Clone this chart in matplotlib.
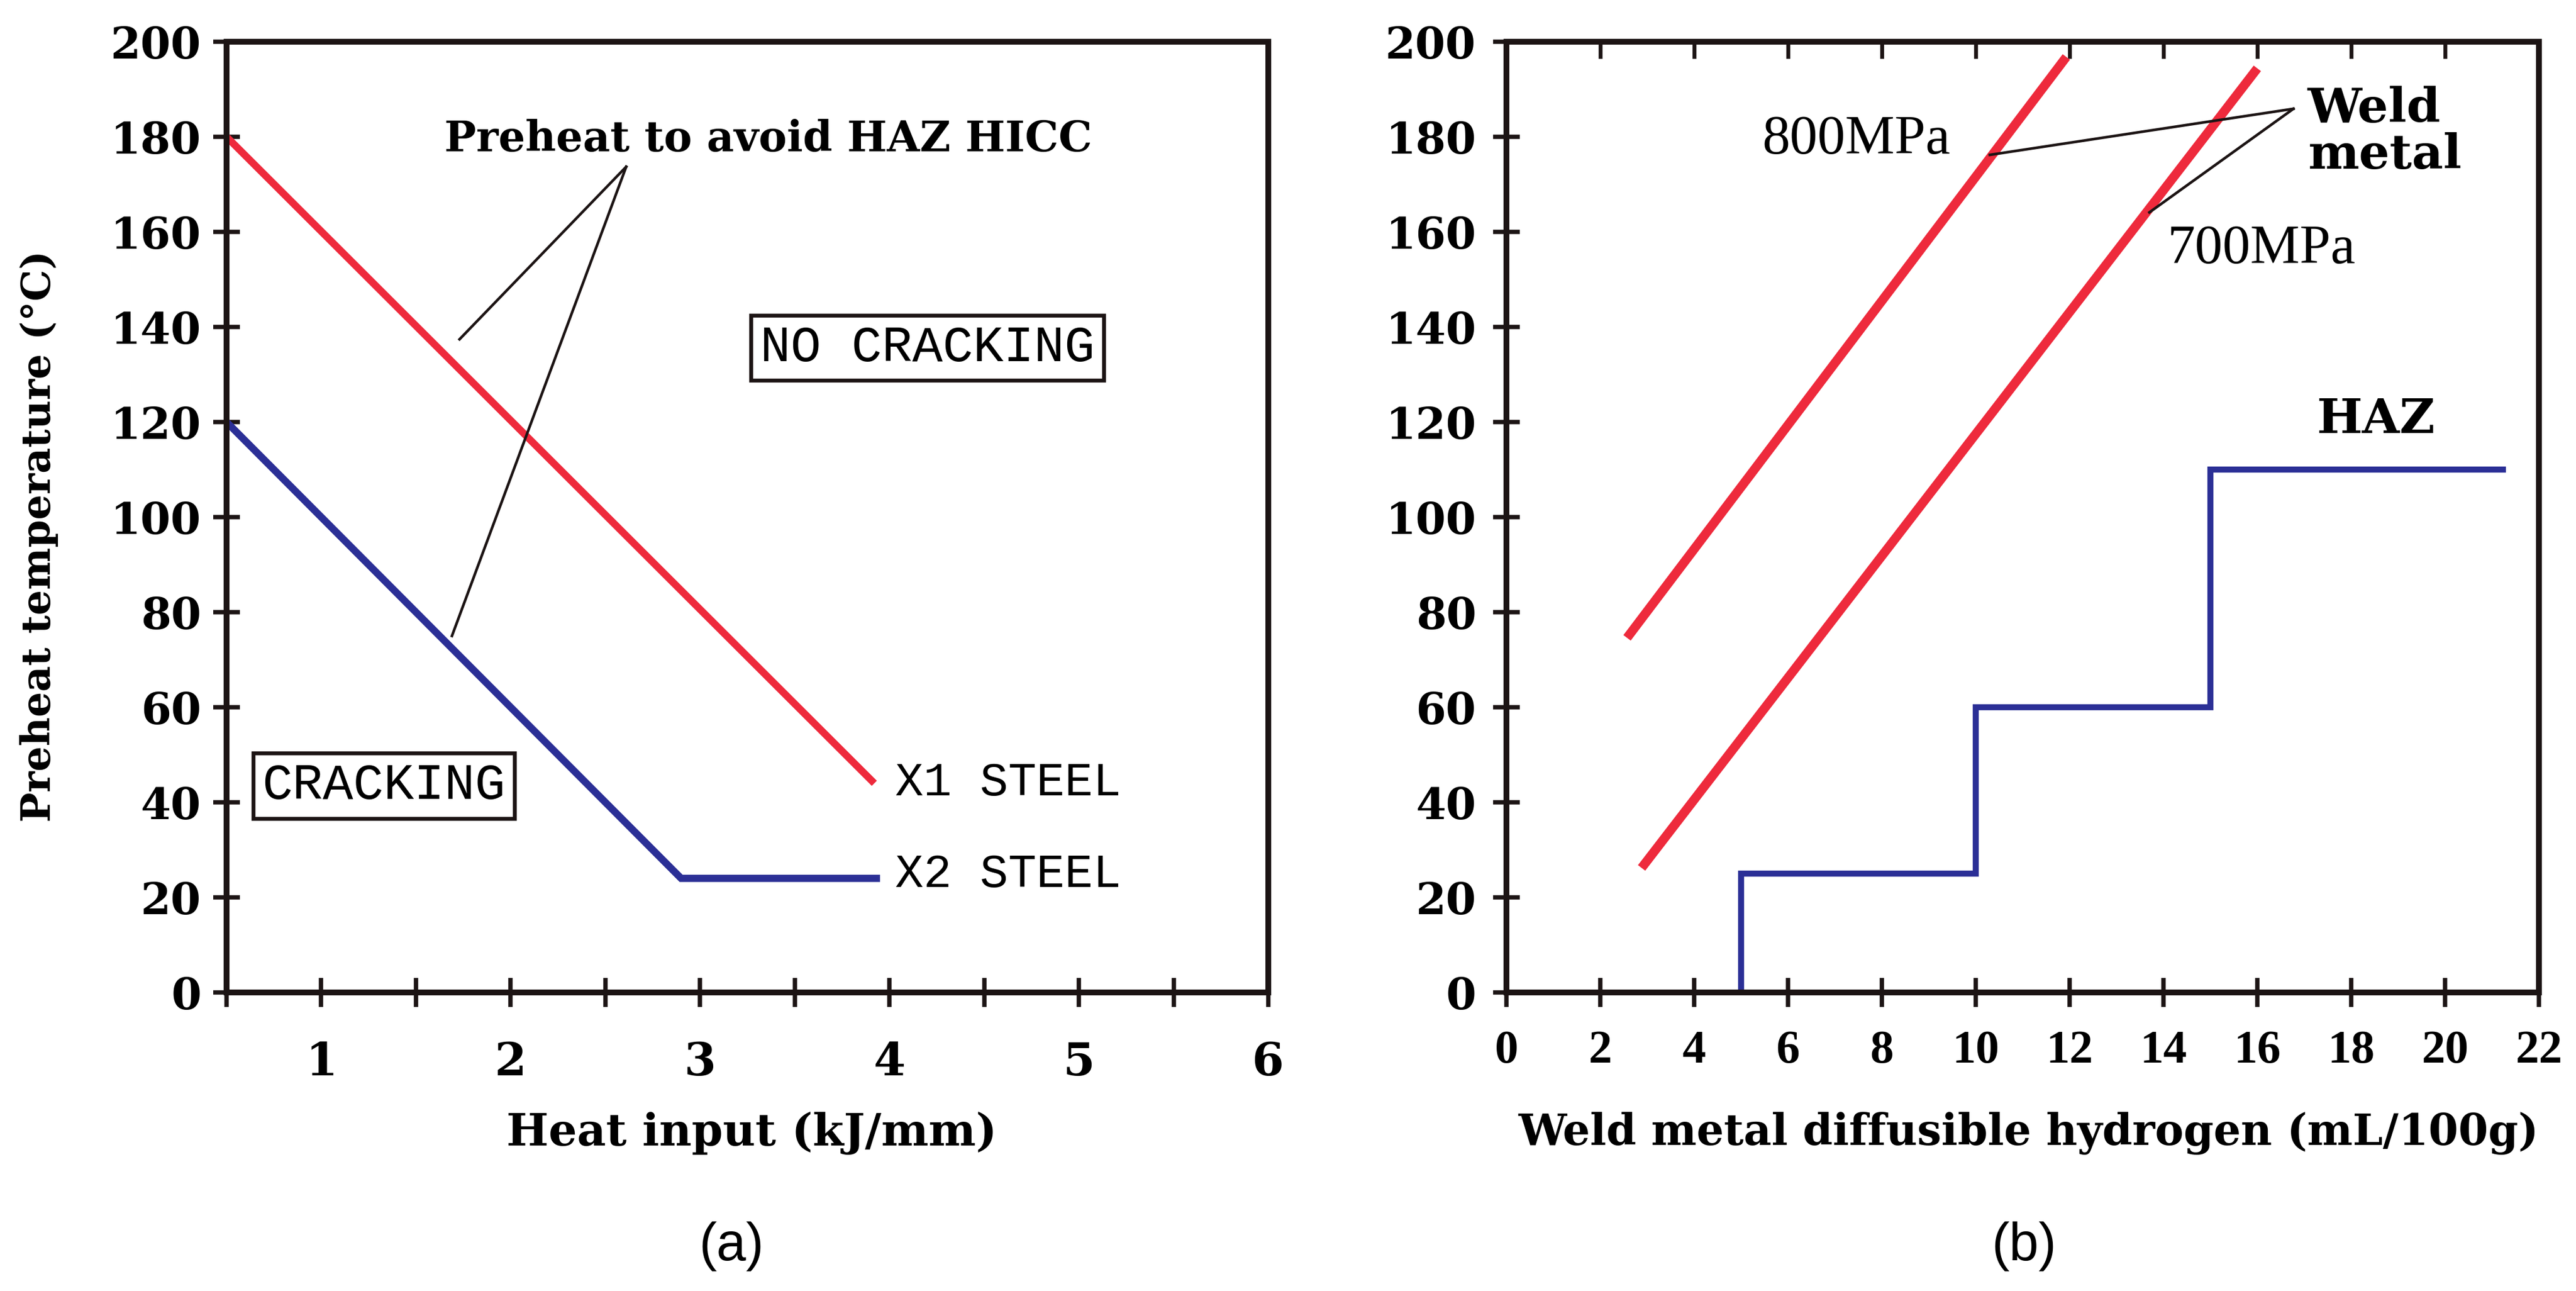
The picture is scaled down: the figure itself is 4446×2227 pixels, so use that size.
import numpy as np
import matplotlib
matplotlib.use("Agg")
import matplotlib.pyplot as plt

# ---------------- data ----------------
# Panel (a): preheat vs heat input
x1_heat = [0.5, 3.92]
x1_preheat = [180, 44]
x2_heat = [0.5, 2.9, 3.95]
x2_preheat = [120, 24, 24]

# Panel (b): preheat vs weld metal diffusible hydrogen
h800 = [2.57, 11.93]
t800 = [74.6, 196.8]
h700 = [2.88, 16.0]
t700 = [26.2, 194.4]
haz_h = [5, 5, 10, 10, 15, 15, 21.3]
haz_t = [0, 25, 25, 60, 60, 110, 110]

a_xticks = [1, 2, 3, 4, 5, 6]
b_xticks = list(range(0, 23, 2))
yticks = list(range(0, 201, 20))

W, H = 4446, 2227
DPI = 300
fig = plt.figure(figsize=(W / DPI, H / DPI), dpi=DPI)
fig.patch.set_facecolor("white")

RED = "#ee2a3c"
BLUE = "#2b2f96"
INK = "#1c1414"
SERIF = "DejaVu Serif"

bot = 1 - 1712 / H
hgt = (1712 - 72) / H
ax1 = fig.add_axes([391 / W, bot, (2189 - 391) / W, hgt])
ax2 = fig.add_axes([2600 / W, bot, (4382 - 2600) / W, hgt])

for ax in (ax1, ax2):
    for s in ax.spines.values():
        s.set_linewidth(2.4)
        s.set_color(INK)
    ax.set_ylim(0, 200)
    ax.set_yticks(yticks)
    ax.tick_params(axis="y", direction="inout", length=11, width=1.8, color=INK,
                   labelsize=18, left=True, right=False)
    for lab in ax.get_yticklabels():
        lab.set_fontfamily(SERIF)
        lab.set_fontweight("bold")

# ---------- panel (a) ----------
ax1.set_xlim(0.5, 6)
ax1.set_xticks(a_xticks)
ax1.set_xticks(np.arange(0.5, 6.0, 1.0), minor=True)
ax1.tick_params(axis="x", which="both", direction="inout", length=12, width=1.8,
                color=INK, labelsize=19, pad=14)
ax1.tick_params(axis="y", pad=5)
for lab in ax1.get_xticklabels():
    lab.set_fontfamily(SERIF)
    lab.set_fontweight("bold")

ax1.plot(x1_heat, x1_preheat, color=RED, lw=3.0, solid_capstyle="butt")
ax1.plot(x2_heat, x2_preheat, color=BLUE, lw=3.0, solid_capstyle="butt",
         solid_joinstyle="miter")

ax1.text(1.65, 179.4, "Preheat to avoid HAZ HICC", fontfamily=SERIF,
         fontweight="bold", fontsize=17.5, ha="left", va="center", color="black")
ax1.plot([2.61, 1.73], [173.7, 137.4], color=INK, lw=1.1)
ax1.plot([2.61, 1.69], [173.7, 75.0], color=INK, lw=1.1)

box = dict(boxstyle="square,pad=0.18", fc="white", ec=INK, lw=1.6)
ax1.text(4.2, 135.6, "NO CRACKING", fontfamily="Liberation Mono", fontsize=21,
         ha="center", va="center", bbox=box, color="black")
ax1.text(1.33, 43.5, "CRACKING", fontfamily="Liberation Mono", fontsize=21,
         ha="center", va="center", bbox=box, color="black")
ax1.text(4.03, 44, "X1 STEEL", fontfamily="Liberation Mono", fontsize=19.5,
         ha="left", va="center", color="black")
ax1.text(4.03, 24.8, "X2 STEEL", fontfamily="Liberation Mono", fontsize=19.5,
         ha="left", va="center", color="black")

ax1.set_ylabel("Preheat temperature (°C)", fontfamily=SERIF, fontweight="bold",
               fontsize=16.5)
ax1.yaxis.set_label_coords(-0.18, 0.48)
ax1.yaxis.label.set_va("center")
ax1.set_xlabel("Heat input (kJ/mm)", fontfamily=SERIF, fontweight="bold",
               fontsize=18.5)
ax1.xaxis.set_label_coords(0.504, -0.148)
ax1.xaxis.label.set_va("center")

# ---------- panel (b) ----------
ax2.set_xlim(0, 22)
ax2.set_xticks(b_xticks)
ax2.tick_params(axis="x", which="both", direction="inout", length=12, width=1.8,
                color=INK, labelsize=19.5, pad=9.5)
ax2.tick_params(axis="y", pad=7)
for lab in ax2.get_xticklabels():
    lab.set_fontfamily("Liberation Serif")
    lab.set_fontweight("bold")

top = ax2.secondary_xaxis("top")
top.set_xticks(list(range(2, 21, 2)))
top.tick_params(direction="in", length=7, width=1.6, color=INK, labeltop=False)
top.spines["top"].set_linewidth(2.4)
top.spines["top"].set_color(INK)

ax2.plot(h800, t800, color=RED, lw=3.8, solid_capstyle="butt")
ax2.plot(h700, t700, color=RED, lw=3.8, solid_capstyle="butt")
ax2.plot(haz_h, haz_t, color=BLUE, lw=2.5, solid_joinstyle="miter",
         solid_capstyle="butt")

ax2.text(7.45, 179.3, "800MPa", fontfamily="Liberation Serif", fontsize=23,
         ha="center", va="center", color="black")
ax2.text(16.09, 156.2, "700MPa", fontfamily="Liberation Serif", fontsize=23,
         ha="center", va="center", color="black")
ax2.text(17.07, 181, "Weld\nmetal", fontfamily=SERIF, fontweight="bold",
         fontsize=20, ha="left", va="center", linespacing=1.0, color="black")
ax2.text(18.52, 120.5, "HAZ", fontfamily=SERIF, fontweight="bold", fontsize=20,
         ha="center", va="center", color="black")
ax2.plot([16.77, 10.3], [185.9, 176.2], color=INK, lw=1.1)
ax2.plot([16.77, 13.7], [185.9, 164.1], color=INK, lw=1.1)

ax2.set_xlabel("Weld metal diffusible hydrogen (mL/100g)", fontfamily=SERIF,
               fontweight="bold", fontsize=17.8)
ax2.xaxis.set_label_coords(0.506, -0.148)
ax2.xaxis.label.set_va("center")

fig.text(1262 / W, 1 - 2150 / H, "(a)", fontfamily="Liberation Sans", fontsize=22,
         ha="center", va="center")
fig.text(3493 / W, 1 - 2150 / H, "(b)", fontfamily="Liberation Sans", fontsize=22,
         ha="center", va="center")

fig.savefig("out.png", dpi=DPI, facecolor="white")
